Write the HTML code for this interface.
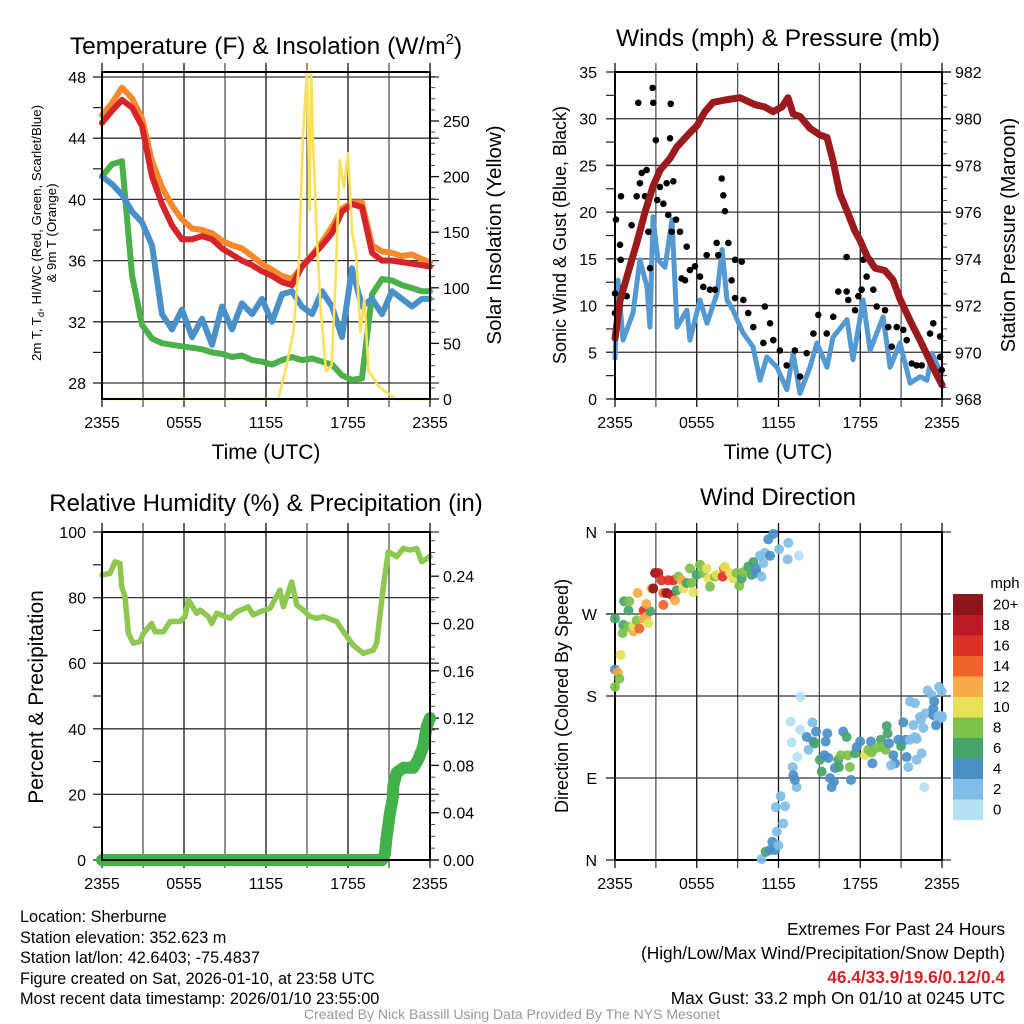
<!DOCTYPE html>
<html><head><meta charset="utf-8"><style>
html,body{margin:0;padding:0;background:#fff;}
svg{display:block;font-family:"Liberation Sans",sans-serif;}
</style></head><body>
<svg id="c" width="1024" height="1024" viewBox="0 0 1024 1024" xmlns="http://www.w3.org/2000/svg">
<rect x="0" y="0" width="1024" height="1024" fill="#fff"/>
<g id="p1"></g>
<g id="p2"></g>
<g id="p3"></g>
<g id="p4"></g>
<text x="266" y="54" font-size="24.5" text-anchor="middle">Temperature (F) &amp; Insolation (W/m<tspan font-size="15" dy="-10">2</tspan><tspan dy="10">)</tspan></text>
<text x="778" y="46" font-size="24.5" text-anchor="middle">Winds (mph) &amp; Pressure (mb)</text>
<text x="266" y="511" font-size="24" text-anchor="middle">Relative Humidity (%) &amp; Precipitation (in)</text>
<text x="778" y="505" font-size="24" text-anchor="middle">Wind Direction</text>
<text transform="translate(41,233) rotate(-90)" font-size="13.3" text-anchor="middle">2m T, T<tspan font-size="9.5" dy="3">d</tspan><tspan dy="-3">, HI/WC (Red, Green, Scarlet/Blue)</tspan></text>
<text transform="translate(56,233) rotate(-90)" font-size="13.3" text-anchor="middle">&amp; 9m T (Orange)</text>
<text transform="translate(501,235) rotate(-90)" font-size="20.5" text-anchor="middle">Solar Insolation (Yellow)</text>
<text x="266" y="459" font-size="21" text-anchor="middle">Time (UTC)</text>
<text transform="translate(566,235) rotate(-90)" font-size="18" text-anchor="middle">Sonic Wind &amp; Gust (Blue, Black)</text>
<text transform="translate(1015,235) rotate(-90)" font-size="20" text-anchor="middle">Station Pressure (Maroon)</text>
<text x="778" y="459" font-size="21" text-anchor="middle">Time (UTC)</text>
<text transform="translate(43,697) rotate(-90)" font-size="21" text-anchor="middle">Percent &amp; Precipitation</text>
<text transform="translate(568,696) rotate(-90)" font-size="18" text-anchor="middle">Direction (Colored By Speed)</text>
<text x="1005" y="588" font-size="15" text-anchor="middle">mph</text>
<g font-size="16.3">
<text x="20" y="922">Location: Sherburne</text>
<text x="20" y="943">Station elevation: 352.623 m</text>
<text x="20" y="963">Station lat/lon: 42.6403; -75.4837</text>
<text x="20" y="984">Figure created on Sat, 2026-01-10, at 23:58 UTC</text>
<text x="20" y="1004">Most recent data timestamp: 2026/01/10 23:55:00</text>
</g>
<g font-size="17.3" text-anchor="end">
<text x="1005" y="935">Extremes For Past 24 Hours</text>
<text x="1005" y="959">(High/Low/Max Wind/Precipitation/Snow Depth)</text>
<text x="1005" y="983" fill="#d0262b" font-weight="bold">46.4/33.9/19.6/0.12/0.4</text>
<text x="1005" y="1004">Max Gust: 33.2 mph On 01/10 at 0245 UTC</text>
</g>
<text x="512" y="1019" font-size="14" fill="#999" text-anchor="middle">Created By Nick Bassill Using Data Provided By The NYS Mesonet</text>
</svg>
<script>
// ---------- data ----------
const xTickHours = [0, 6, 12, 18, 24];
const xTickLabels = ["2355", "0555", "1155", "1755", "2355"];
const tempHours = [0,0.73,1.46,2.2,2.93,3.66,4.39,5.12,5.85,6.59,7.32,8.05,8.78,9.51,10.24,10.98,11.71,12.44,13.17,13.9,14.63,15.37,16.1,16.83,17.56,18.29,19.02,19.76,20.49,21.22,21.95,22.68,23.41,24];
const temp9m = [45.5,46.3,47.3,46.6,45.3,42.5,40.8,39.6,38.7,38.1,38,37.8,37.3,37,36.8,36.3,35.8,35.4,35,34.8,35.6,36.4,37.2,38.2,39.4,39.8,39.8,37,36.6,36.5,36.3,36.4,36.1,35.9];
const temp2m = [45,45.8,46.5,46,44.8,41.5,39.7,38.3,37.4,37.4,37.6,37.4,36.8,36.4,36,35.7,35.3,35,34.6,34.4,35.6,36.3,37,37.8,39.2,39.7,39.5,36.5,36,36,35.9,35.8,35.7,35.6];
const dewpoint = [41.5,42.3,42.5,35,31.8,30.9,30.6,30.5,30.4,30.3,30.2,30,29.9,29.7,29.8,29.5,29.4,29.2,29.5,29.7,29.5,29.6,29.4,29.2,28.5,28.2,28.3,33.8,34.8,34.7,34.4,34.2,34,34];
const windChill = [41.5,41,40.3,39.2,38.5,37,32.5,31.5,32.8,31,32.2,30.5,33,31.5,33.2,32.5,33.5,32,33.8,34,33,32.5,34,33,31,35.5,33,33.5,32.5,34,33.5,33,33.5,33.5];
const solarHours = [0,12.9,13.5,14.0,14.4,14.7,15.0,15.2,15.3,15.45,15.7,16.0,16.4,16.8,17.1,17.4,17.7,18.0,18.3,18.6,18.9,19.2,19.5,19.8,20.2,20.8,21.5,24];
const solarValues = [0,0,30,60,120,235,295,170,295,230,150,80,25,30,110,215,190,221,150,130,60,90,25,20,12,6,0,0];

const pressHours = [0,0.37,1.1,1.61,2.2,2.79,3.3,4.04,4.55,5.5,6.02,6.6,7.19,8.07,9.17,10.28,11.0,11.6,12.26,12.7,13.07,13.58,14.3,15.05,15.56,16.0,16.5,17.0,17.6,17.98,18.5,19.1,19.8,20.4,20.9,21.7,22.4,23.3,24];
const pressValues = [970.6,972.2,973.7,974.7,976,977.1,977.8,978.3,978.8,979.4,979.7,980.3,980.7,980.8,980.9,980.6,980.5,980.3,980.5,980.9,980.2,980.1,979.6,979.3,979.2,978.2,976.8,976.1,975.2,974.8,974.1,973.6,973.5,973.1,972.3,971.3,970.5,969.4,968.6];
const windHours = [0,0.22,0.59,1.32,1.83,2.35,2.57,2.79,3.15,3.67,4.18,4.55,5.28,5.5,6.24,6.75,7.49,7.86,8.22,8.66,9.39,10.13,10.64,11.15,11.89,12.62,13.07,13.58,14.31,14.82,15.56,16.0,17.03,17.47,18.21,18.72,19.68,20.19,20.92,21.66,22.39,22.9,23.27,24];
const windValues = [4.2,12.7,6.3,9.2,14.9,12,7.7,19.5,14.9,14.1,19.2,7.7,9.5,6.3,10.6,8.1,11.3,16,10.6,9.5,7.1,5.6,2,4.5,3.4,1,4.9,0.6,3.4,6,3.4,6.6,8.5,4.2,10.6,5.2,8.8,3.4,6,1.7,2.4,2,4.9,2.4];
const gustHours = [0,0,0.07,0.37,0.42,0.61,0.44,0.86,1.22,1.59,1.71,1.96,1.83,2.2,2.32,2.45,2.57,2.76,2.81,3.0,3.1,3.3,3.55,3.79,3.91,4.04,4.09,4.16,4.28,4.48,4.77,4.89,5.14,5.26,5.5,5.87,6.24,6.48,6.73,6.97,7.34,7.46,7.58,7.83,7.95,8.07,8.32,8.56,8.81,8.81,9.3,9.42,9.78,10.15,10.89,11.0,11.38,11.62,12.1,12.6,13.2,13.58,14.07,14.56,14.92,15.54,16.02,16.39,17.0,17.12,17.0,17.62,17.86,18.1,18.23,18.47,18.72,18.96,19.21,19.7,19.82,20.06,20.31,20.68,21.16,21.41,21.78,22.14,22.51,23.12,23.36,23.86,23.86,23.98];
const gustValues = [11.3,9.2,19.2,16.5,14.9,12.0,21.7,11.0,18.6,21.7,31.7,24.2,23.1,21.7,24.5,17.9,14.0,33.3,31.7,27.7,21.3,22.7,20.9,23.1,19.7,27.9,31.6,17.9,23.3,19.2,17.9,12.9,12.7,16.3,13.8,14.2,13.1,12.0,15.4,11.7,11.7,16.7,15.4,23.6,21.8,20.1,16.7,12.7,14.9,10.8,14.7,10.6,9.2,7.7,6.0,9.9,8.1,6.3,5.2,3.6,5.2,2.4,4.9,7.0,9.0,7.0,8.8,11.5,11.5,10.6,15.2,9.5,11.0,11.7,14.9,13.1,14.9,11.7,9.9,13.8,9.5,7.7,5.6,7.7,7.4,6.3,3.8,3.6,3.6,7.0,8.1,6.7,4.5,3.1];

const rhHours = [0,0.59,0.95,1.32,1.44,1.68,1.93,2.29,2.78,3.02,3.64,3.88,4.49,4.98,5.71,6.07,6.32,6.93,7.17,7.78,8.02,8.39,9.37,9.86,10.7,11.07,11.56,12.29,13.02,13.27,13.88,14.25,14.73,15.22,15.71,16.19,17.17,17.66,18.39,19.12,19.85,20.1,20.58,20.95,21.56,22.05,22.54,23.03,23.39,24];
const rhValues = [86.9,87.4,90.9,90.4,83.3,80.3,69.1,66.1,66.6,69.1,72.1,69.6,69.6,72.7,72.7,74.2,79.3,75.2,76.2,74.2,72.1,75.2,73.7,75.7,77.2,74.7,75.7,76.7,82.3,77.2,84.8,77.7,76.2,74.2,73.7,74.2,72.7,69.6,65.5,63,64,66.1,83.3,94,92.5,95,94.5,95,90.9,92.5];
const precipHours = [0,20.5,20.7,20.83,21.07,21.27,21.32,21.56,22.05,22.78,23.14,23.51,23.76,24];
const precipValues = [0,0,0.005,0.02,0.04,0.052,0.063,0.074,0.078,0.078,0.085,0.096,0.113,0.12];

const dirHours = [0,0,0.2,0.32,0,0.42,0.61,0.56,0.66,0.99,1.05,0.99,1.35,1.35,1.59,1.79,2.08,2.08,2.13,2.3,2.45,2.57,1.66,2.3,2.69,2.81,2.94,3.18,3.42,3.55,3.55,3.79,4.16,3.91,4.28,4.4,4.52,4.65,4.89,5.01,5.26,5.5,5.62,5.75,5.99,6.24,6.48,6.73,6.85,6.97,7.34,7.46,7.9,8.0,8.07,8.44,8.68,8.93,9.12,9.3,9.42,9.78,10.03,10.15,10.35,10.4,10.76,10.89,10.64,11.0,11.25,11.62,11.38,12.04,12.72,12.67,13.5,10.76,11.06,11.38,11.55,11.75,11.99,11.87,12.35,11.8,12.16,12.48,13.04,13.09,13.33,13.2,12.96,12.89,13.62,13.58,13.38,14.07,14.2,14.49,14.76,14.56,14.68,15.04,15.17,15.37,15.46,15.58,15.78,15.9,16.07,15.66,16.14,16.39,16.43,16.58,16.75,17.0,17.07,17.24,17.32,17.62,17.74,17.99,18.35,18.59,18.84,18.89,18.79,19.2,19.52,19.57,19.86,19.94,20.01,20.11,20.43,20.55,20.26,20.8,21.0,21.16,21.33,21.4,21.53,21.65,22.02,22.14,22.14,22.5,22.7,21.9,22.46,22.63,21.65,22.02,22.8,22.95,23.24,23.36,23.36,23.56,23.78,23.98,23.98,23.73,24,22.38,23.43];
const dirDegrees = [265,209,206,199,190,225,258,249,284,274,284,256,251,257,263,254,265,274,274,267,260,273,293,281,298,298,315,315,307,293,280,293,291,307,307,285,296,311,307,298,304,320,304,294,313,324,315,320,309,300,311,313,311,320,322,315,309,315,301,309,316,322,313,327,320,315,311,326,334,337,352,358,334,341,348,330,334,1,9,11,20,11,16,31,40,58,70,59,102,93,80,88,129,152,179,143,113,135,121,151,141,130,128,110,97,115,130,139,90,80,86,112,101,110,102,115,141,135,115,102,88,117,124,130,115,121,118,106,130,123,132,124,121,147,139,128,115,106,104,132,125,151,132,113,102,132,135,133,110,117,80,148,154,145,174,172,161,186,181,166,159,148,190,185,156,158,158,157,174];
const dirSpeeds = [6,4,12,8,8,10,6,8,6,6,8,8,12,10,8,14,12,12,16,12,10,6,12,12,12,20,20,18,16,14,14,20,18,16,16,12,6,8,12,10,6,8,8,10,6,8,8,10,10,8,8,10,16,14,10,10,10,8,8,6,8,6,6,6,4,4,2,2,2,2,4,4,4,2,2,2,0,2,6,4,4,4,2,2,2,2,2,2,2,4,2,4,0,0,0,0,0,4,2,2,4,4,6,6,6,4,4,4,4,4,4,4,4,6,6,8,4,6,8,8,4,6,4,4,10,8,8,4,4,8,6,8,8,6,6,4,4,4,2,4,6,4,4,4,2,2,2,2,2,2,0,2,2,2,2,2,2,2,2,4,4,4,2,2,2,2,2,2,4];
const speedBinLabels = ["0","2","4","6","8","10","12","14","16","18","20+"];
const speedColors = ["#b5e1f7","#80bde6","#4a8fc6","#46a46b","#7cc14a","#e6e157","#f7aa47","#ef6329","#dc3128","#bb1c24","#8e161b"];

// ---------- helpers ----------
const NS = "http://www.w3.org/2000/svg";
const TICK_FS = 16;
function mk(parent, tag, attrs, text) {
  const e = document.createElementNS(NS, tag);
  for (const k in attrs) e.setAttribute(k, attrs[k]);
  if (text !== undefined) e.textContent = text;
  parent.appendChild(e);
  return e;
}
function scale(d0, d1, r0, r1) { return v => r0 + (v - d0) / (d1 - d0) * (r1 - r0); }
function pathFrom(xs, ys, fx, fy) {
  return xs.map((h, i) => (i ? "L" : "M") + fx(h).toFixed(1) + "," + fy(ys[i]).toFixed(1)).join("");
}
function frame(g, L, R, T, B) {
  const f = mk(g, "rect", {x: L, y: T, width: R - L, height: B - T, fill: "none", stroke: "#000", "stroke-width": 2});
  
  
}
function xAxis(g, L, R, T, B, fx) {
  for (let h = 0; h <= 24; h += 3) {
    const x = fx(h);
    const gl = mk(g, "line", {x1: x, x2: x, y1: T - 9, y2: B + 8, stroke: (h % 6 === 0) ? "#111" : "#555", "stroke-width": 1.3});
    
    
  }
  xTickHours.forEach((h, i) => {
    const t = mk(g, "text", {x: fx(h), y: B + 29, "font-size": TICK_FS, "text-anchor": "middle"}, xTickLabels[i]);
    
    
  });
}
function yLeft(g, L, R, fy, ticks, grid, minor, fmt, labelX) {
  minor.forEach(v => {
    const m = mk(g, "line", {x1: L - 9, x2: L, y1: fy(v), y2: fy(v), stroke: "#222", "stroke-width": 1.2});
    
    
  });
  grid.forEach(v => {
    const l = mk(g, "line", {x1: L - 9, x2: R + 9, y1: fy(v), y2: fy(v), stroke: "#333", "stroke-width": 1.3});
    
    
  });
  ticks.forEach(v => {
    const t = mk(g, "text", {x: labelX, y: fy(v) + 6, "font-size": TICK_FS, "text-anchor": "end"}, fmt(v));
    
    
  });
}
function yRight(g, R, fy, ticks, minor, fmt) {
  minor.forEach(v => {
    const m = mk(g, "line", {x1: R, x2: R + 5, y1: fy(v), y2: fy(v), stroke: "#444", "stroke-width": 1});
    
    
  });
  ticks.forEach(v => {
    const m = mk(g, "line", {x1: R, x2: R + 9, y1: fy(v), y2: fy(v), stroke: "#111", "stroke-width": 1.3});
    
    
    const t = mk(g, "text", {x: R + 13, y: fy(v) + 6, "font-size": TICK_FS}, fmt(v));
    
    
  });
}
function range(a, b, s) { const r = []; for (let v = a; v <= b + 1e-9; v += s) r.push(+v.toFixed(4)); return r; }

// ---------- panel 1 ----------
(function () {
  const g = document.getElementById("p1");
  const L = 102, R = 430, T = 72, B = 399;
  const fx = scale(0, 24, L, R);
  const fy = scale(28, 48, 383, 77);
  const fs = scale(0, 250, 399, 121);
  xAxis(g, L, R, T, B, fx);
  yLeft(g, L, R, fy, range(28, 48, 4), range(28, 48, 4), range(28, 48, 2), v => String(v), 86);
  yRight(g, R, fs, range(0, 250, 50), range(0, 290, 10), v => String(v));
  const series = [
    [temp9m, "#f7892c", "orange-9m-temp-line"],
    [dewpoint, "#4bb04a", "green-dewpoint-line"],
    [windChill, "#4a90c8", "blue-heat-index-wind-chill-line"],
    [temp2m, "#d6252a", "red-2m-temp-line"]
  ];
  series.forEach(s => {
    const p = mk(g, "path", {d: pathFrom(tempHours, s[0], fx, fy), fill: "none", stroke: s[1], "stroke-width": 6, "stroke-linejoin": "round", "stroke-linecap": "round"});
    
    
  });
  const y = mk(g, "path", {d: pathFrom(solarHours, solarValues, fx, fs), fill: "none", stroke: "#fbe05a", "stroke-width": 2.6, "stroke-linejoin": "round"});
  
  
  frame(g, L, R, T, B);
})();

// ---------- panel 2 ----------
(function () {
  const g = document.getElementById("p2");
  const L = 615, R = 942, T = 72, B = 399;
  const fx = scale(0, 24, L, R);
  const fy = scale(0, 35, 399, 72);
  const fp = scale(968, 982, 399, 72);
  xAxis(g, L, R, T, B, fx);
  yLeft(g, L, R, fy, range(0, 35, 5), range(0, 35, 5), range(0, 35, 2.5), v => String(v), 597);
  yRight(g, R, fp, range(968, 982, 2), range(968, 982, 0.5), v => String(v));
  const w = mk(g, "path", {d: pathFrom(windHours, windValues, fx, fy), fill: "none", stroke: "#5499d2", "stroke-width": 5, "stroke-linejoin": "round"});
  
  
  gustHours.forEach((h, i) => {
    const c = mk(g, "circle", {cx: fx(h), cy: fy(gustValues[i]), r: 3.3, fill: "#000"});
    
    
  });
  const p = mk(g, "path", {d: pathFrom(pressHours, pressValues, fx, fp), fill: "none", stroke: "#9b1a1e", "stroke-width": 7, "stroke-linejoin": "round", "stroke-linecap": "round"});
  
  
  frame(g, L, R, T, B);
})();

// ---------- panel 3 ----------
(function () {
  const g = document.getElementById("p3");
  const L = 102, R = 430, T = 532, B = 860;
  const fx = scale(0, 24, L, R);
  const fy = scale(0, 100, 860, 532);
  const fr = scale(0, 0.04, 860, 812.7);
  xAxis(g, L, R, T, B, fx);
  yLeft(g, L, R, fy, range(0, 100, 20), range(0, 100, 20), range(0, 100, 10), v => String(v), 86);
  yRight(g, R, fr, range(0, 0.24, 0.04), range(0, 0.27, 0.01), v => v.toFixed(2));
  const rh = mk(g, "path", {d: pathFrom(rhHours, rhValues, fx, fy), fill: "none", stroke: "#8ec850", "stroke-width": 5.5, "stroke-linejoin": "round", "stroke-linecap": "round"});
  
  
  const pr = mk(g, "path", {d: pathFrom(precipHours, precipValues, fx, fr), fill: "none", stroke: "#43b14a", "stroke-width": 12, "stroke-linejoin": "round", "stroke-linecap": "round"});
  
  
  frame(g, L, R, T, B);
})();

// ---------- panel 4 ----------
(function () {
  const g = document.getElementById("p4");
  const L = 615, R = 942, T = 532, B = 860;
  const fx = scale(0, 24, L, R);
  const fd = scale(0, 360, 860, 532);
  xAxis(g, L, R, T, B, fx);
  const dirLabels = ["N", "E", "S", "W", "N"];
  const dirTicks = [0, 90, 180, 270, 360];
  yLeft(g, L, R, fd, [], dirTicks, dirTicks, v => "", 597);
  dirTicks.forEach((v, i) => {
    const t = mk(g, "text", {x: 597, y: fd(v) + 6, "font-size": TICK_FS, "text-anchor": "end"}, dirLabels[i]);
    
    
  });
  frame(g, L, R, T, B);
  dirHours.forEach((h, i) => {
    const bin = Math.min(10, Math.round(dirSpeeds[i] / 2));
    const c = mk(g, "circle", {cx: fx(h), cy: fd(dirDegrees[i]), r: 5, fill: speedColors[bin], "fill-opacity": 0.92});
    
    
  });
  // colorbar
  const cbTop = 594, cbH = 20.5;
  speedBinLabels.forEach((lab, i) => {
    const k = speedBinLabels.length - 1 - i;
    const y0 = cbTop + k * cbH;
    const r = mk(g, "rect", {x: 953, y: y0, width: 30, height: cbH + 0.5, fill: speedColors[i]});
    
    
    const t = mk(g, "text", {x: 993, y: y0 + cbH / 2 + 5, "font-size": 15}, lab);
    
    
  });
})();
</script>
</body></html>
